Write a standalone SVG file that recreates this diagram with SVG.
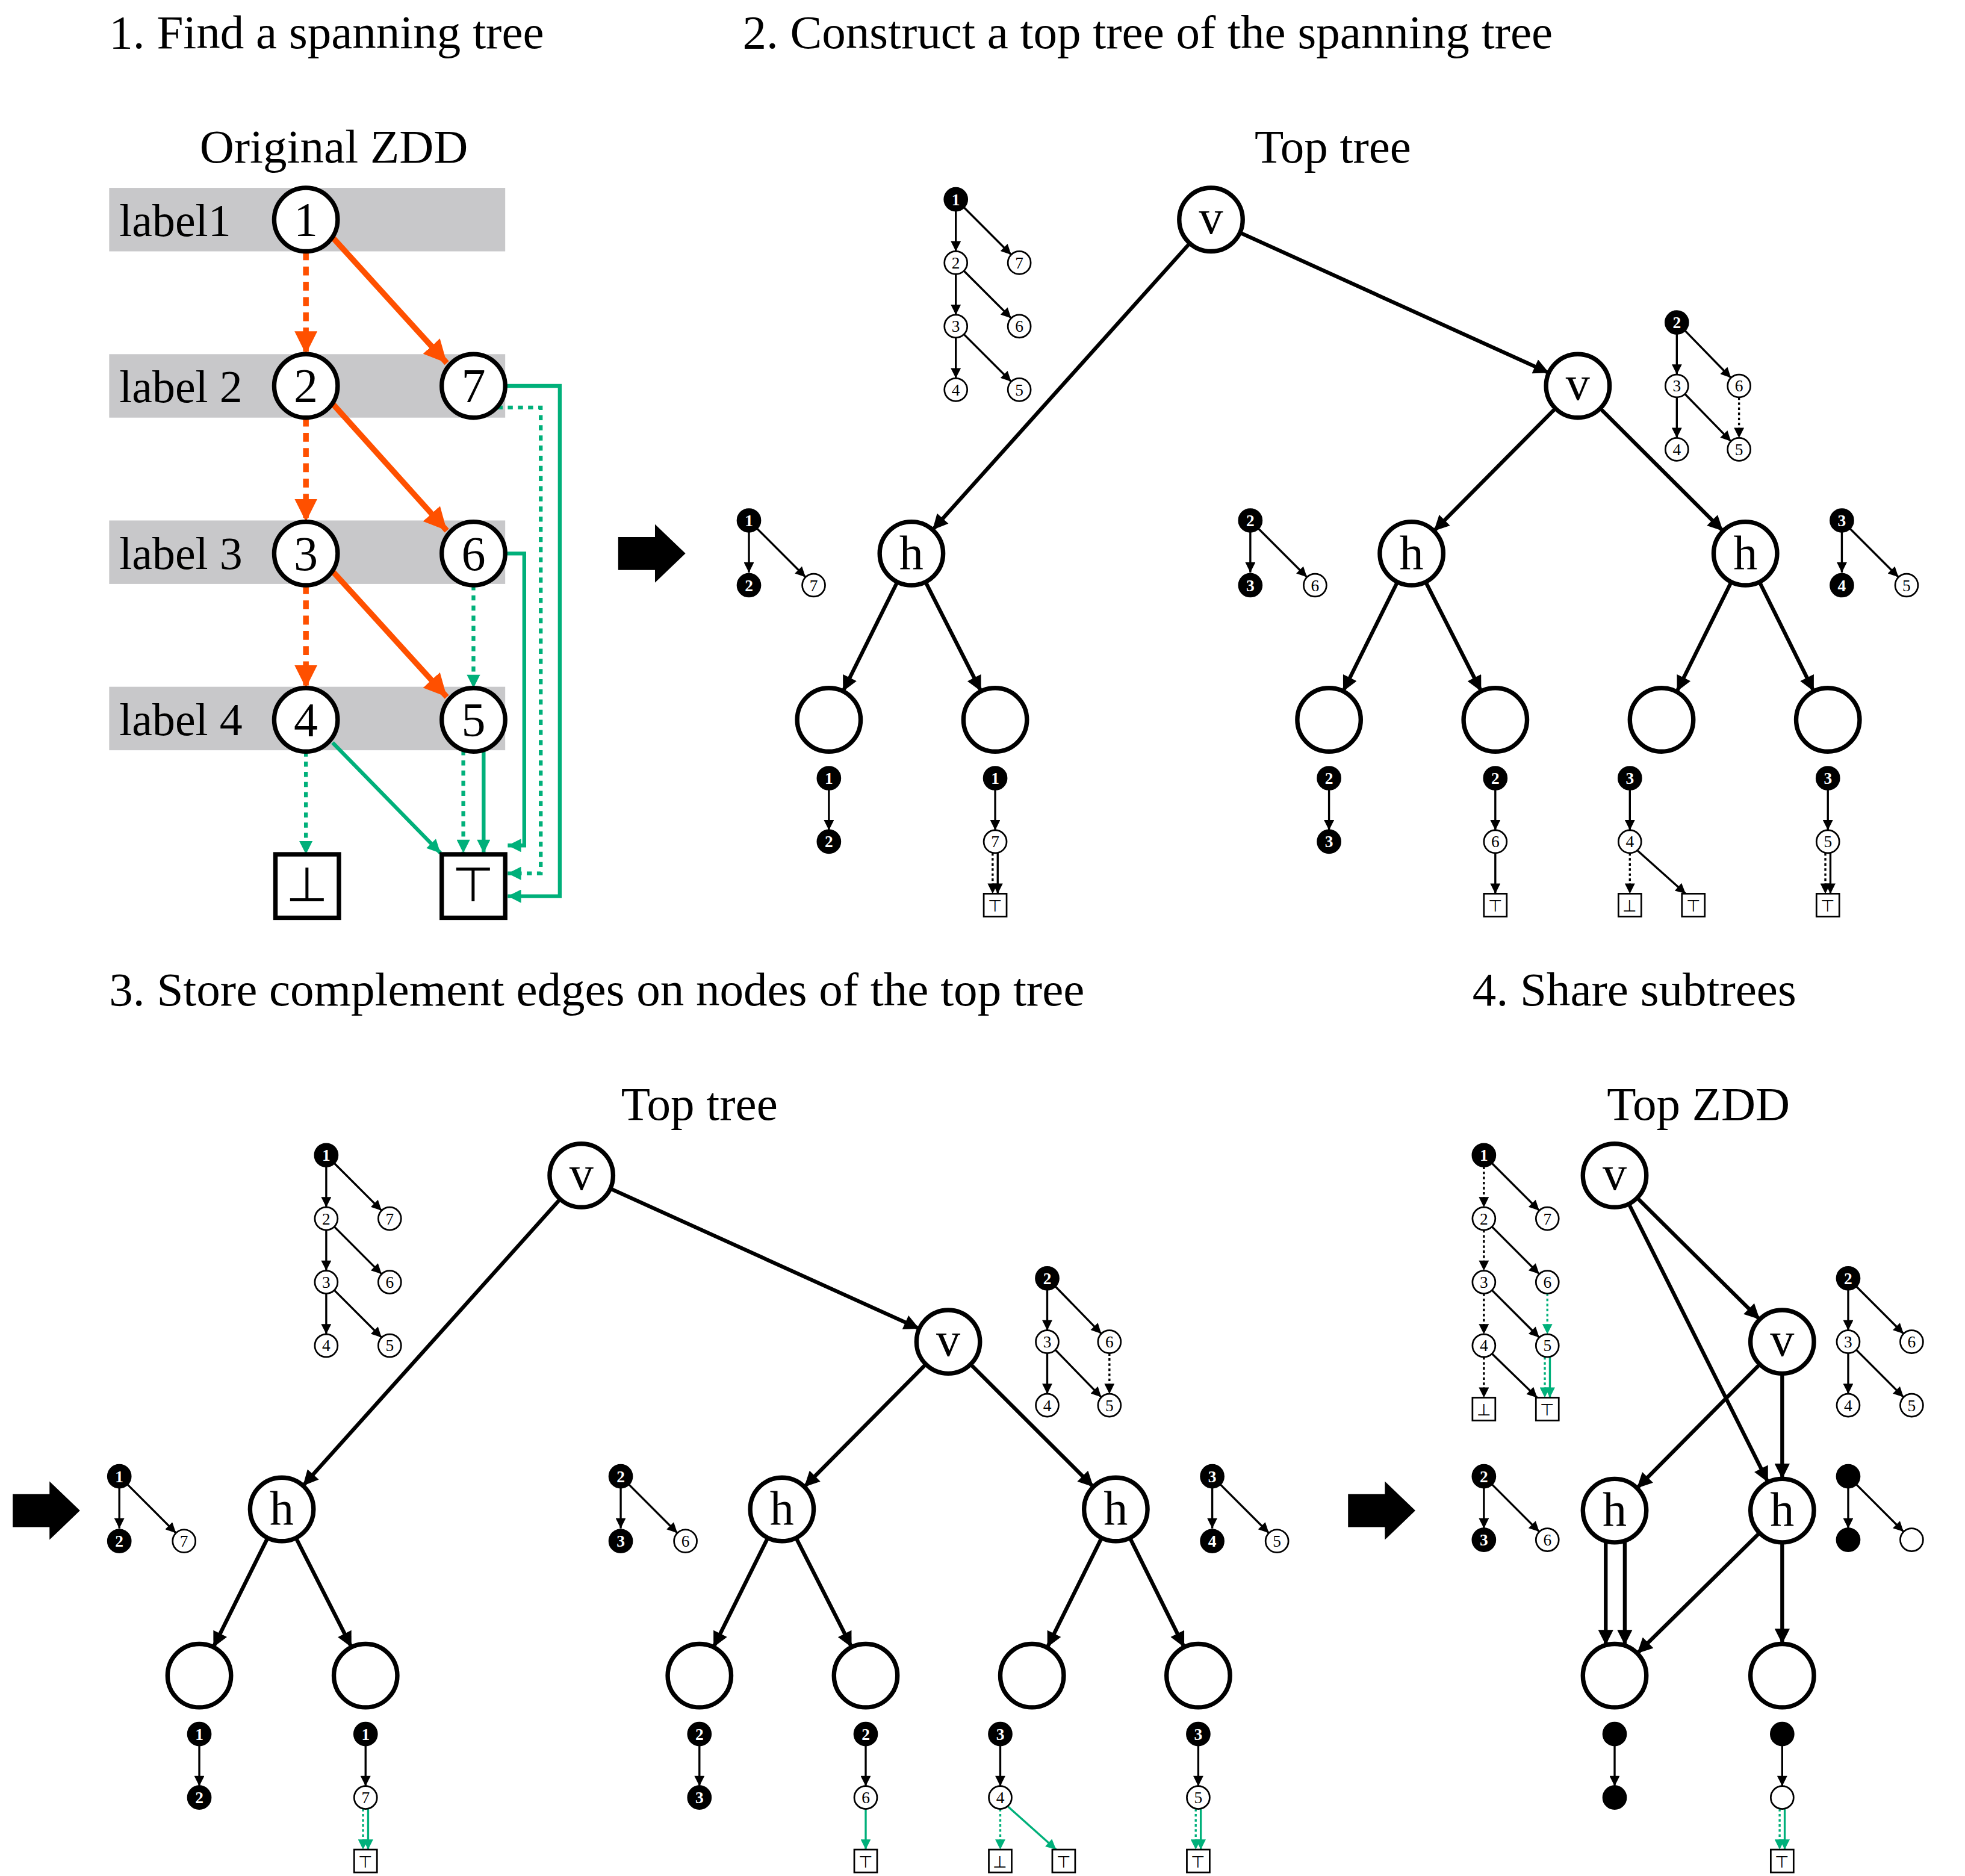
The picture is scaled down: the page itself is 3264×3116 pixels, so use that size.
<svg xmlns="http://www.w3.org/2000/svg" width="3264" height="3116" viewBox="0 0 3264 3116">
<style>
text{font-family:"Liberation Serif","Times New Roman",serif;fill:#000}
.ti{font-size:37.5px}
.lb{font-size:36px}
.big{font-size:38px;text-anchor:middle}
.n{fill:#fff;stroke:#000;stroke-width:3.5}
.m{fill:#fff;stroke:#000;stroke-width:1.3}
.f{fill:#000;stroke:#000;stroke-width:1.3}
.mt{font-size:13px;text-anchor:middle}
.wt{font-size:13px;text-anchor:middle;fill:#fff;font-weight:bold}
.e{stroke:#000;stroke-width:3;fill:none;marker-end:url(#aM)}
.me{stroke:#000;stroke-width:1.6;fill:none;marker-end:url(#am)}
.md{stroke:#000;stroke-width:1.6;fill:none;stroke-dasharray:2 2;marker-end:url(#am)}
.ge{stroke:#00b07a;stroke-width:1.6;fill:none;marker-end:url(#ag)}
.gd{stroke:#00b07a;stroke-width:1.6;fill:none;stroke-dasharray:2 2;marker-end:url(#ag)}
.oe{stroke:#ff5000;stroke-width:4.5;fill:none;marker-end:url(#ao)}
.od{stroke:#ff5000;stroke-width:4.5;fill:none;stroke-dasharray:7 5;marker-end:url(#ao)}
.Ge{stroke:#00b07a;stroke-width:3;fill:none;marker-end:url(#aG)}
.Gd{stroke:#00b07a;stroke-width:3;fill:none;stroke-dasharray:4 4;marker-end:url(#aG)}
.band{fill:#c8c8ca}
.bx{fill:#fff;stroke:#000;stroke-width:1.3}
</style>
<defs>
<marker id="aM" viewBox="0 0 10 10" refX="10" refY="5" markerWidth="5" markerHeight="4" orient="auto"><path d="M0,0L10,5L0,10Z" fill="#000"/></marker>
<marker id="am" viewBox="0 0 10 10" refX="10" refY="5" markerWidth="6" markerHeight="5" orient="auto"><path d="M0,0L10,5L0,10Z" fill="#000"/></marker>
<marker id="ag" viewBox="0 0 10 10" refX="10" refY="5" markerWidth="6" markerHeight="5" orient="auto"><path d="M0,0L10,5L0,10Z" fill="#00b07a"/></marker>
<marker id="ao" viewBox="0 0 10 10" refX="10" refY="5" markerWidth="4" markerHeight="4" orient="auto"><path d="M0,0L10,5L0,10Z" fill="#ff5000"/></marker>
<marker id="aG" viewBox="0 0 10 10" refX="10" refY="5" markerWidth="4" markerHeight="3.5" orient="auto"><path d="M0,0L10,5L0,10Z" fill="#00b07a"/></marker>
<clipPath id="cp"><rect x="0" y="0" width="1516" height="1478"/></clipPath>
</defs>
<rect width="3264" height="3116" fill="#fff"/>
<g transform="scale(2.1085)">
<g id="titles">
<text class="ti" x="86" y="38">1. Find a spanning tree</text>
<text class="ti" x="585" y="38">2. Construct a top tree of the spanning tree</text>
<text class="ti" x="86" y="792">3. Store complement edges on nodes of the top tree</text>
<text class="ti" x="1160" y="792">4. Share subtrees</text>
<text class="ti" x="263" y="128" text-anchor="middle">Original ZDD</text>
<text class="ti" x="1050" y="128" text-anchor="middle">Top tree</text>
<text class="ti" x="551" y="882" text-anchor="middle">Top tree</text>
<text class="ti" x="1338" y="882" text-anchor="middle">Top ZDD</text>
</g>
<g id="bands">
<rect class="band" x="86" y="148" width="312" height="50"/>
<rect class="band" x="86" y="279" width="312" height="50"/>
<rect class="band" x="86" y="410" width="312" height="50"/>
<rect class="band" x="86" y="541" width="312" height="50"/>
<text class="lb" x="94" y="186">label1</text>
<text class="lb" x="94" y="317">label 2</text>
<text class="lb" x="94" y="448">label 3</text>
<text class="lb" x="94" y="579">label 4</text>
</g>
<g id="p1-edges">
<line class="od" x1="241" y1="198" x2="241" y2="279"/>
<line class="od" x1="241" y1="329" x2="241" y2="411"/>
<line class="od" x1="241" y1="461" x2="241" y2="542"/>
<line class="oe" x1="262" y1="187" x2="352" y2="286"/>
<line class="oe" x1="262" y1="318" x2="352" y2="418"/>
<line class="oe" x1="262" y1="450" x2="352" y2="549"/>
<line class="Gd" x1="373" y1="461" x2="373" y2="542"/>
<line class="Gd" x1="241" y1="592" x2="241" y2="673"/>
<line class="Ge" x1="262" y1="585" x2="347" y2="672"/>
<line class="Gd" x1="365" y1="591" x2="365" y2="672"/>
<line class="Ge" x1="381" y1="591" x2="381" y2="672"/>
<polyline class="Ge" points="398,436 413,436 413,666 400,666"/>
<polyline class="Gd" points="392,321 426,321 426,688 400,688"/>
<polyline class="Ge" points="398,304 441,304 441,706 400,706"/>
</g>
<g id="p1-nodes">
<circle class="n" cx="241" cy="173" r="25"/><text class="big" x="241" y="186">1</text>
<circle class="n" cx="241" cy="304" r="25"/><text class="big" x="241" y="317">2</text>
<circle class="n" cx="241" cy="436" r="25"/><text class="big" x="241" y="449">3</text>
<circle class="n" cx="241" cy="567" r="25"/><text class="big" x="241" y="580">4</text>
<circle class="n" cx="373" cy="304" r="25"/><text class="big" x="373" y="317">7</text>
<circle class="n" cx="373" cy="436" r="25"/><text class="big" x="373" y="449">6</text>
<circle class="n" cx="373" cy="567" r="25"/><text class="big" x="373" y="580">5</text>
<rect class="n" x="217" y="673" width="50" height="50"/><text class="big" x="242" y="710">⊥</text>
<rect class="n" x="348" y="673" width="50" height="50"/><text class="big" x="373" y="710">⊤</text>
</g>
<g id="arrows">
<path d="M487,423H516V413L540,436L516,459V449H487Z"/>
<path d="M10,1177H39V1167L63,1190L39,1213V1203H10Z"/>
<path d="M1062,1177H1091V1167L1115,1190L1091,1213V1203H1062Z"/>
</g>
<g id="p2">
<g id="p2-edges">
<line class="e" x1="937.3" y1="191.6" x2="734.7" y2="417.4"/>
<line class="e" x1="976.8" y1="183.3" x2="1220.2" y2="293.7"/>
<line class="e" x1="1225.4" y1="321.7" x2="1129.6" y2="418.3"/>
<line class="e" x1="1260.6" y1="321.7" x2="1357.4" y2="418.3"/>
<line class="e" x1="706.9" y1="458.4" x2="664.1" y2="544.6"/>
<line class="e" x1="729.1" y1="458.4" x2="772.9" y2="544.6"/>
<line class="e" x1="1100.9" y1="458.4" x2="1058.1" y2="544.6"/>
<line class="e" x1="1123.1" y1="458.4" x2="1166.9" y2="544.6"/>
<line class="e" x1="1363.9" y1="458.4" x2="1321.1" y2="544.6"/>
<line class="e" x1="1386.1" y1="458.4" x2="1428.9" y2="544.6"/>
</g>
<g id="p2-nodes">
<circle class="n" cx="954" cy="173" r="25"/><text class="big" x="954" y="184">v</text>
<circle class="n" cx="1243" cy="304" r="25"/><text class="big" x="1243" y="315">v</text>
<circle class="n" cx="718" cy="436" r="25"/><text class="big" x="718" y="448">h</text>
<circle class="n" cx="1112" cy="436" r="25"/><text class="big" x="1112" y="448">h</text>
<circle class="n" cx="1375" cy="436" r="25"/><text class="big" x="1375" y="448">h</text>
<circle class="n" cx="653" cy="567" r="25"/>
<circle class="n" cx="784" cy="567" r="25"/>
<circle class="n" cx="1047" cy="567" r="25"/>
<circle class="n" cx="1178" cy="567" r="25"/>
<circle class="n" cx="1309" cy="567" r="25"/>
<circle class="n" cx="1440" cy="567" r="25"/>
</g>
<g id="p2-minis">
<line class="me" x1="753" y1="166" x2="753" y2="198"/>
<line class="me" x1="753" y1="216" x2="753" y2="248"/>
<line class="me" x1="753" y1="266" x2="753" y2="298"/>
<line class="me" x1="759.4" y1="163.4" x2="796.6" y2="200.6"/>
<line class="me" x1="759.4" y1="213.4" x2="796.6" y2="250.6"/>
<line class="me" x1="759.4" y1="263.4" x2="796.6" y2="300.6"/>
<circle class="f" cx="753" cy="157" r="9"/><text class="wt" x="753" y="161.5">1</text>
<circle class="m" cx="753" cy="207" r="9"/><text class="mt" x="753" y="211.5">2</text>
<circle class="m" cx="803" cy="207" r="9"/><text class="mt" x="803" y="211.5">7</text>
<circle class="m" cx="753" cy="257" r="9"/><text class="mt" x="753" y="261.5">3</text>
<circle class="m" cx="803" cy="257" r="9"/><text class="mt" x="803" y="261.5">6</text>
<circle class="m" cx="753" cy="307" r="9"/><text class="mt" x="753" y="311.5">4</text>
<circle class="m" cx="803" cy="307" r="9"/><text class="mt" x="803" y="311.5">5</text>
<line class="me" x1="1321" y1="263" x2="1321" y2="295"/>
<line class="me" x1="1321" y1="313" x2="1321" y2="345"/>
<line class="me" x1="1327.4" y1="260.4" x2="1363.6" y2="297.6"/>
<line class="me" x1="1327.4" y1="310.4" x2="1363.6" y2="347.6"/>
<line class="md" x1="1370" y1="313" x2="1370" y2="345"/>
<circle class="f" cx="1321" cy="254" r="9"/><text class="wt" x="1321" y="258.5">2</text>
<circle class="m" cx="1321" cy="304" r="9"/><text class="mt" x="1321" y="308.5">3</text>
<circle class="m" cx="1370" cy="304" r="9"/><text class="mt" x="1370" y="308.5">6</text>
<circle class="m" cx="1321" cy="354" r="9"/><text class="mt" x="1321" y="358.5">4</text>
<circle class="m" cx="1370" cy="354" r="9"/><text class="mt" x="1370" y="358.5">5</text>
<line class="me" x1="590" y1="419" x2="590" y2="451"/>
<line class="me" x1="596.4" y1="416.4" x2="634.6" y2="454.6"/>
<circle class="f" cx="590" cy="410" r="9"/><text class="wt" x="590" y="414.5">1</text>
<circle class="f" cx="590" cy="461" r="9"/><text class="wt" x="590" y="465.5">2</text>
<circle class="m" cx="641" cy="461" r="9"/><text class="mt" x="641" y="465.5">7</text>
<line class="me" x1="985" y1="419" x2="985" y2="451"/>
<line class="me" x1="991.4" y1="416.4" x2="1029.6" y2="454.6"/>
<circle class="f" cx="985" cy="410" r="9"/><text class="wt" x="985" y="414.5">2</text>
<circle class="f" cx="985" cy="461" r="9"/><text class="wt" x="985" y="465.5">3</text>
<circle class="m" cx="1036" cy="461" r="9"/><text class="mt" x="1036" y="465.5">6</text>
<line class="me" x1="1451" y1="419" x2="1451" y2="451"/>
<line class="me" x1="1457.4" y1="416.4" x2="1495.6" y2="454.6"/>
<circle class="f" cx="1451" cy="410" r="9"/><text class="wt" x="1451" y="414.5">3</text>
<circle class="f" cx="1451" cy="461" r="9"/><text class="wt" x="1451" y="465.5">4</text>
<circle class="m" cx="1502" cy="461" r="9"/><text class="mt" x="1502" y="465.5">5</text>
</g>
</g>
<g id="p2-leafminis">
<line class="me" x1="653" y1="622" x2="653" y2="654"/>
<circle class="f" cx="653" cy="613" r="9"/><text class="wt" x="653" y="617.5">1</text>
<circle class="f" cx="653" cy="663" r="9"/><text class="wt" x="653" y="667.5">2</text>
<line class="me" x1="784" y1="622" x2="784" y2="654"/>
<line class="md" x1="782" y1="672" x2="782" y2="704"/>
<line class="me" x1="786" y1="672" x2="786" y2="704"/>
<circle class="f" cx="784" cy="613" r="9"/><text class="wt" x="784" y="617.5">1</text>
<circle class="m" cx="784" cy="663" r="9"/><text class="mt" x="784" y="667.5">7</text>
<rect class="bx" x="775" y="704" width="18" height="18"/><text class="mt" x="784" y="718">⊤</text>
<line class="me" x1="1047" y1="622" x2="1047" y2="654"/>
<circle class="f" cx="1047" cy="613" r="9"/><text class="wt" x="1047" y="617.5">2</text>
<circle class="f" cx="1047" cy="663" r="9"/><text class="wt" x="1047" y="667.5">3</text>
<line class="me" x1="1178" y1="622" x2="1178" y2="654"/>
<line class="me" x1="1178" y1="672" x2="1178" y2="704"/>
<circle class="f" cx="1178" cy="613" r="9"/><text class="wt" x="1178" y="617.5">2</text>
<circle class="m" cx="1178" cy="663" r="9"/><text class="mt" x="1178" y="667.5">6</text>
<rect class="bx" x="1169" y="704" width="18" height="18"/><text class="mt" x="1178" y="718">⊤</text>
<line class="me" x1="1284" y1="622" x2="1284" y2="654"/>
<line class="md" x1="1284" y1="672" x2="1284" y2="704"/>
<line class="me" x1="1290" y1="670" x2="1328" y2="704"/>
<circle class="f" cx="1284" cy="613" r="9"/><text class="wt" x="1284" y="617.5">3</text>
<circle class="m" cx="1284" cy="663" r="9"/><text class="mt" x="1284" y="667.5">4</text>
<rect class="bx" x="1275" y="704" width="18" height="18"/><text class="mt" x="1284" y="718">⊥</text>
<rect class="bx" x="1325" y="704" width="18" height="18"/><text class="mt" x="1334" y="718">⊤</text>
<line class="me" x1="1440" y1="622" x2="1440" y2="654"/>
<line class="md" x1="1438" y1="672" x2="1438" y2="704"/>
<line class="me" x1="1442" y1="672" x2="1442" y2="704"/>
<circle class="f" cx="1440" cy="613" r="9"/><text class="wt" x="1440" y="617.5">3</text>
<circle class="m" cx="1440" cy="663" r="9"/><text class="mt" x="1440" y="667.5">5</text>
<rect class="bx" x="1431" y="704" width="18" height="18"/><text class="mt" x="1440" y="718">⊤</text>
</g>
<g id="p3" transform="translate(-496,753)">
<use href="#p2"/>
<line class="me" x1="653" y1="622" x2="653" y2="654"/>
<circle class="f" cx="653" cy="613" r="9"/><text class="wt" x="653" y="617.5">1</text>
<circle class="f" cx="653" cy="663" r="9"/><text class="wt" x="653" y="667.5">2</text>
<line class="me" x1="784" y1="622" x2="784" y2="654"/>
<line class="gd" x1="782" y1="672" x2="782" y2="704"/>
<line class="ge" x1="786" y1="672" x2="786" y2="704"/>
<circle class="f" cx="784" cy="613" r="9"/><text class="wt" x="784" y="617.5">1</text>
<circle class="m" cx="784" cy="663" r="9"/><text class="mt" x="784" y="667.5">7</text>
<rect class="bx" x="775" y="704" width="18" height="18"/><text class="mt" x="784" y="718">⊤</text>
<line class="me" x1="1047" y1="622" x2="1047" y2="654"/>
<circle class="f" cx="1047" cy="613" r="9"/><text class="wt" x="1047" y="617.5">2</text>
<circle class="f" cx="1047" cy="663" r="9"/><text class="wt" x="1047" y="667.5">3</text>
<line class="me" x1="1178" y1="622" x2="1178" y2="654"/>
<line class="ge" x1="1178" y1="672" x2="1178" y2="704"/>
<circle class="f" cx="1178" cy="613" r="9"/><text class="wt" x="1178" y="617.5">2</text>
<circle class="m" cx="1178" cy="663" r="9"/><text class="mt" x="1178" y="667.5">6</text>
<rect class="bx" x="1169" y="704" width="18" height="18"/><text class="mt" x="1178" y="718">⊤</text>
<line class="me" x1="1284" y1="622" x2="1284" y2="654"/>
<line class="gd" x1="1284" y1="672" x2="1284" y2="704"/>
<line class="ge" x1="1290" y1="670" x2="1328" y2="704"/>
<circle class="f" cx="1284" cy="613" r="9"/><text class="wt" x="1284" y="617.5">3</text>
<circle class="m" cx="1284" cy="663" r="9"/><text class="mt" x="1284" y="667.5">4</text>
<rect class="bx" x="1275" y="704" width="18" height="18"/><text class="mt" x="1284" y="718">⊥</text>
<rect class="bx" x="1325" y="704" width="18" height="18"/><text class="mt" x="1334" y="718">⊤</text>
<line class="me" x1="1440" y1="622" x2="1440" y2="654"/>
<line class="gd" x1="1438" y1="672" x2="1438" y2="704"/>
<line class="ge" x1="1442" y1="672" x2="1442" y2="704"/>
<circle class="f" cx="1440" cy="613" r="9"/><text class="wt" x="1440" y="617.5">3</text>
<circle class="m" cx="1440" cy="663" r="9"/><text class="mt" x="1440" y="667.5">5</text>
<rect class="bx" x="1431" y="704" width="18" height="18"/><text class="mt" x="1440" y="718">⊤</text>
</g>
<g id="p4-edges">
<line class="e" x1="1289.7" y1="943.6" x2="1386.3" y2="1039.4"/>
<line class="e" x1="1283.2" y1="948.4" x2="1392.8" y2="1167.6"/>
<line class="e" x1="1386.4" y1="1074.7" x2="1289.6" y2="1172.3"/>
<line class="e" x1="1404" y1="1082" x2="1404" y2="1165"/>
<line class="e" x1="1265" y1="1214" x2="1265" y2="1296"/>
<line class="e" x1="1280" y1="1214" x2="1280" y2="1296"/>
<line class="e" x1="1386.2" y1="1207.5" x2="1289.8" y2="1302.5"/>
<line class="e" x1="1404" y1="1215" x2="1404" y2="1295"/>
</g>
<g id="p4-nodes">
<circle class="n" cx="1272" cy="926" r="25"/><text class="big" x="1272" y="937">v</text>
<circle class="n" cx="1404" cy="1057" r="25"/><text class="big" x="1404" y="1068">v</text>
<circle class="n" cx="1272" cy="1190" r="25"/><text class="big" x="1272" y="1202">h</text>
<circle class="n" cx="1404" cy="1190" r="25"/><text class="big" x="1404" y="1202">h</text>
<circle class="n" cx="1272" cy="1320" r="25"/>
<circle class="n" cx="1404" cy="1320" r="25"/>
</g>
<g id="p4-minis" clip-path="url(#cp)">
<line class="md" x1="1169" y1="919" x2="1169" y2="951"/>
<line class="md" x1="1169" y1="969" x2="1169" y2="1001"/>
<line class="md" x1="1169" y1="1019" x2="1169" y2="1051"/>
<line class="md" x1="1169" y1="1069" x2="1169" y2="1101"/>
<line class="me" x1="1175.4" y1="916.4" x2="1212.6" y2="953.6"/>
<line class="me" x1="1175.4" y1="966.4" x2="1212.6" y2="1003.6"/>
<line class="me" x1="1175.4" y1="1016.4" x2="1212.6" y2="1053.6"/>
<line class="me" x1="1175.4" y1="1066.4" x2="1211" y2="1101"/>
<line class="gd" x1="1219" y1="1019" x2="1219" y2="1051"/>
<line class="gd" x1="1217" y1="1069" x2="1217" y2="1101"/>
<line class="ge" x1="1221" y1="1069" x2="1221" y2="1101"/>
<circle class="f" cx="1169" cy="910" r="9"/><text class="wt" x="1169" y="914.5">1</text>
<circle class="m" cx="1169" cy="960" r="9"/><text class="mt" x="1169" y="964.5">2</text>
<circle class="m" cx="1219" cy="960" r="9"/><text class="mt" x="1219" y="964.5">7</text>
<circle class="m" cx="1169" cy="1010" r="9"/><text class="mt" x="1169" y="1014.5">3</text>
<circle class="m" cx="1219" cy="1010" r="9"/><text class="mt" x="1219" y="1014.5">6</text>
<circle class="m" cx="1169" cy="1060" r="9"/><text class="mt" x="1169" y="1064.5">4</text>
<circle class="m" cx="1219" cy="1060" r="9"/><text class="mt" x="1219" y="1064.5">5</text>
<rect class="bx" x="1160" y="1101" width="18" height="18"/><text class="mt" x="1169" y="1115">⊥</text>
<rect class="bx" x="1210" y="1101" width="18" height="18"/><text class="mt" x="1219" y="1115">⊤</text>
<line class="me" x1="1456" y1="1016" x2="1456" y2="1048"/>
<line class="me" x1="1456" y1="1066" x2="1456" y2="1098"/>
<line class="me" x1="1462.4" y1="1013.4" x2="1499.6" y2="1050.6"/>
<line class="me" x1="1462.4" y1="1063.4" x2="1499.6" y2="1100.6"/>
<circle class="f" cx="1456" cy="1007" r="9"/><text class="wt" x="1456" y="1011.5">2</text>
<circle class="m" cx="1456" cy="1057" r="9"/><text class="mt" x="1456" y="1061.5">3</text>
<circle class="m" cx="1506" cy="1057" r="9"/><text class="mt" x="1506" y="1061.5">6</text>
<circle class="m" cx="1456" cy="1107" r="9"/><text class="mt" x="1456" y="1111.5">4</text>
<circle class="m" cx="1506" cy="1107" r="9"/><text class="mt" x="1506" y="1111.5">5</text>
<line class="me" x1="1169" y1="1172" x2="1169" y2="1204"/>
<line class="me" x1="1175.4" y1="1169.4" x2="1212.6" y2="1206.6"/>
<circle class="f" cx="1169" cy="1163" r="9"/><text class="wt" x="1169" y="1167.5">2</text>
<circle class="f" cx="1169" cy="1213" r="9"/><text class="wt" x="1169" y="1217.5">3</text>
<circle class="m" cx="1219" cy="1213" r="9"/><text class="mt" x="1219" y="1217.5">6</text>
<line class="me" x1="1456" y1="1172" x2="1456" y2="1204"/>
<line class="me" x1="1462.4" y1="1169.4" x2="1499.6" y2="1206.6"/>
<circle class="f" cx="1456" cy="1163" r="9"/>
<circle class="f" cx="1456" cy="1213" r="9"/>
<circle class="m" cx="1506" cy="1213" r="9"/>
<line class="me" x1="1272" y1="1375" x2="1272" y2="1407"/>
<circle class="f" cx="1272" cy="1366" r="9"/>
<circle class="f" cx="1272" cy="1416" r="9"/>
<line class="me" x1="1404" y1="1375" x2="1404" y2="1407"/>
<line class="gd" x1="1402" y1="1425" x2="1402" y2="1457"/>
<line class="ge" x1="1406" y1="1425" x2="1406" y2="1457"/>
<circle class="f" cx="1404" cy="1366" r="9"/>
<circle class="m" cx="1404" cy="1416" r="9"/>
<rect class="bx" x="1395" y="1457" width="18" height="18"/><text class="mt" x="1404" y="1471">⊤</text>
</g>
</g>
</svg>
